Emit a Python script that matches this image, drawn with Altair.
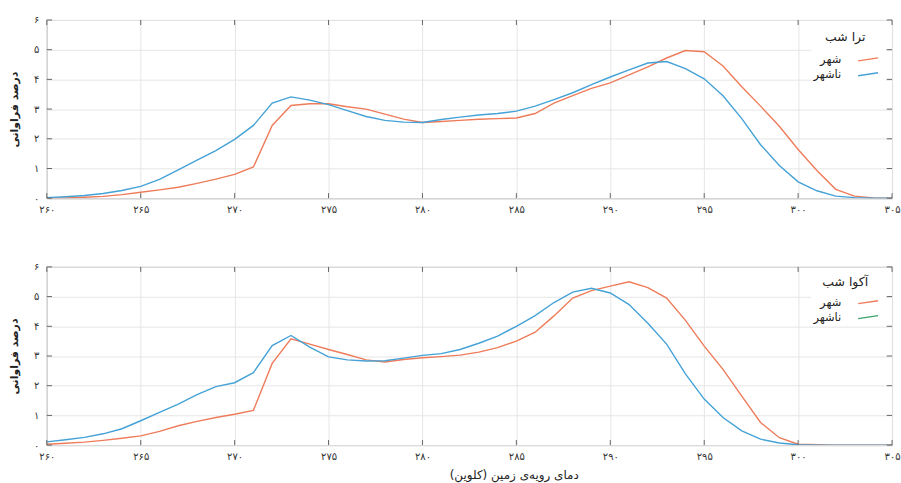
import altair as alt
import pandas as pd

# ---------------- data ----------------
temps = list(range(260, 306))

terra_city = [0.0, 0.01, 0.03, 0.06, 0.12, 0.2, 0.28, 0.37, 0.5, 0.64,
              0.8, 1.05, 2.45, 3.12, 3.18, 3.18, 3.08, 3.0, 2.83, 2.66,
              2.55, 2.58, 2.62, 2.66, 2.68, 2.7, 2.85, 3.2, 3.45, 3.7,
              3.88, 4.15, 4.42, 4.72, 4.97, 4.93, 4.45, 3.75, 3.1, 2.42,
              1.64, 0.93, 0.3, 0.07, 0.01, 0.0]
terra_noncity = [0.02, 0.05, 0.09, 0.16, 0.26, 0.4, 0.63, 0.95, 1.28, 1.6,
                 1.98, 2.45, 3.2, 3.41, 3.3, 3.15, 2.95, 2.75, 2.62, 2.56,
                 2.55, 2.65, 2.73, 2.8, 2.85, 2.93, 3.1, 3.32, 3.55, 3.82,
                 4.08, 4.32, 4.55, 4.6, 4.36, 4.02, 3.45, 2.68, 1.8, 1.1,
                 0.55, 0.25, 0.07, 0.02, 0.0, 0.0]
aqua_city = [0.03, 0.06, 0.1, 0.16, 0.23, 0.31, 0.46, 0.65, 0.8, 0.93,
             1.04, 1.17, 2.75, 3.58, 3.4, 3.22, 3.05, 2.87, 2.8, 2.88,
             2.94, 2.98, 3.03, 3.13, 3.28, 3.5, 3.8, 4.35, 4.95, 5.2,
             5.35, 5.5, 5.3, 4.95, 4.2, 3.33, 2.55, 1.65, 0.76, 0.25,
             0.03, 0.01, 0.0, 0.0, 0.0, 0.0]
aqua_noncity = [0.11, 0.18, 0.26, 0.38, 0.55, 0.82, 1.1, 1.38, 1.7, 1.97,
                2.1, 2.44, 3.35, 3.69, 3.3, 2.97, 2.87, 2.83, 2.84, 2.93,
                3.02, 3.08, 3.22, 3.43, 3.67, 4.0, 4.36, 4.8, 5.15, 5.28,
                5.12, 4.73, 4.1, 3.4, 2.4, 1.55, 0.93, 0.48, 0.2, 0.07,
                0.01, 0.0, 0.0, 0.0, 0.0, 0.0]

x_ticks = [260, 265, 270, 275, 280, 285, 290, 295, 300, 305]
y_ticks = [0, 1, 2, 3, 4, 5, 6]
series_keys = ["city", "noncity"]
series_labels = ["شهر", "ناشهر"]
panel_titles = ["ترا شب", "آکوا شب"]
y_title = "درصد فراوانی"
x_title = "دمای رویه‌ی زمین (کلوین)"

ORANGE = "#ee7c5a"
BLUE = "#45a2d6"
GREEN = "#3aa36a"
FONT = "DejaVu Sans"
W, H = 849, 179

fa_digits = "۰۱۲۳۴۵۶۷۸۹"
label_expr = "datum.label"
for d in range(10):
    label_expr = f"replace({label_expr}, regexp('{d}', 'g'), '{fa_digits[d]}')"


def panel(city, noncity, title, noncity_swatch, show_xtitle, ly):
    n = len(temps)
    df = pd.DataFrame({
        "t": temps * 2,
        "v": city + noncity,
        "s": [series_keys[0]] * n + [series_keys[1]] * n,
    })
    xs = alt.Scale(domain=[260, 305], nice=False, zero=False)
    ys = alt.Scale(domain=[0, 6], nice=False)
    xaxis = alt.Axis(values=x_ticks, labelExpr=label_expr, grid=True,
                     gridColor="#e6e6e6", domain=False, ticks=False,
                     labelPadding=6, labelFontSize=10, labelColor="#333",
                     labelFont=FONT, labelFlush=False, labelOverlap=False,
                     title=x_title if show_xtitle else None,
                     titleFont=FONT, titleFontSize=12, titleFontWeight="normal",
                     titleColor="#222", titleX=469, titlePadding=9)
    yaxis = alt.Axis(values=y_ticks, labelExpr=label_expr, grid=True,
                     gridColor="#e6e6e6", domain=False, ticks=False,
                     labelPadding=8, labelFontSize=10, labelColor="#333",
                     labelFont=FONT, labelOverlap=False, labelFlush=False,
                     title=y_title, titleFont=FONT,
                     titleFontSize=11, titleFontWeight="bold",
                     titleColor="#222", titlePadding=14)
    lines = alt.Chart(df).mark_line(strokeWidth=1.4, clip=True).encode(
        x=alt.X("t:Q", scale=xs, axis=xaxis),
        y=alt.Y("v:Q", scale=ys, axis=yaxis),
        color=alt.Color("s:N", scale=alt.Scale(domain=series_keys,
                                               range=[ORANGE, BLUE]),
                        legend=None),
    )
    xt = pd.DataFrame({"t": x_ticks})
    yt = pd.DataFrame({"v": y_ticks})
    tick_color = "#666"
    xtick_b = alt.Chart(xt).mark_rule(color=tick_color, strokeWidth=1).encode(
        x=alt.X("t:Q", scale=xs, axis=xaxis),
        y=alt.YDatum(0, scale=ys, axis=yaxis), y2=alt.datum(0.17))
    xtick_t = alt.Chart(xt).mark_rule(color=tick_color, strokeWidth=1).encode(
        x=alt.X("t:Q", scale=xs, axis=xaxis),
        y=alt.YDatum(6, scale=ys, axis=yaxis), y2=alt.datum(5.83))
    ytick_l = alt.Chart(yt).mark_rule(color=tick_color, strokeWidth=1).encode(
        y=alt.Y("v:Q", scale=ys, axis=yaxis),
        x=alt.XDatum(260, scale=xs, axis=xaxis), x2=alt.datum(260.28))
    ytick_r = alt.Chart(yt).mark_rule(color=tick_color, strokeWidth=1).encode(
        y=alt.Y("v:Q", scale=ys, axis=yaxis),
        x=alt.XDatum(305, scale=xs, axis=xaxis), x2=alt.datum(304.72))

    box = alt.Chart().mark_rect(color="white").encode(
        x=alt.value(768), x2=alt.value(843), y=alt.value(4), y2=alt.value(ly[2] + 8))
    ttl = alt.Chart().mark_text(text=title, font=FONT, fontSize=12.5,
                                fontWeight="normal", color="#222",
                                align="center", baseline="middle").encode(
        x=alt.value(802), y=alt.value(ly[0]))
    lab1 = alt.Chart().mark_text(text=series_labels[0], font=FONT, fontSize=11.5,
                                 color="#222", align="right",
                                 baseline="middle").encode(
        x=alt.value(798), y=alt.value(ly[1]))
    lab2 = alt.Chart().mark_text(text=series_labels[1], font=FONT, fontSize=11.5,
                                 color="#222", align="right",
                                 baseline="middle").encode(
        x=alt.value(798), y=alt.value(ly[2]))
    sw1 = alt.Chart().mark_rule(color=ORANGE, strokeWidth=1.3).encode(
        x=alt.value(815), x2=alt.value(835), y=alt.value(ly[1] + 1),
        y2=alt.value(ly[1] - 2))
    sw2 = alt.Chart().mark_rule(color=noncity_swatch, strokeWidth=1.3).encode(
        x=alt.value(815), x2=alt.value(835), y=alt.value(ly[2] + 1),
        y2=alt.value(ly[2] - 2))

    return alt.layer(lines, xtick_b, xtick_t, ytick_l, ytick_r,
                     box, ttl, lab1, lab2, sw1, sw2).properties(width=W, height=H)


top = panel(terra_city, terra_noncity, panel_titles[0], BLUE, False, (17, 40, 55))
bottom = panel(aqua_city, aqua_noncity, panel_titles[1], GREEN, True, (15, 36, 51))

chart = alt.vconcat(top, bottom, spacing=46).properties(
    padding={"left": 8, "top": 13, "right": 0, "bottom": 0},
    background="white",
).configure_view(stroke="#777", strokeWidth=1)

chart.save("out.html", embed_options={"renderer": "svg", "actions": False})
